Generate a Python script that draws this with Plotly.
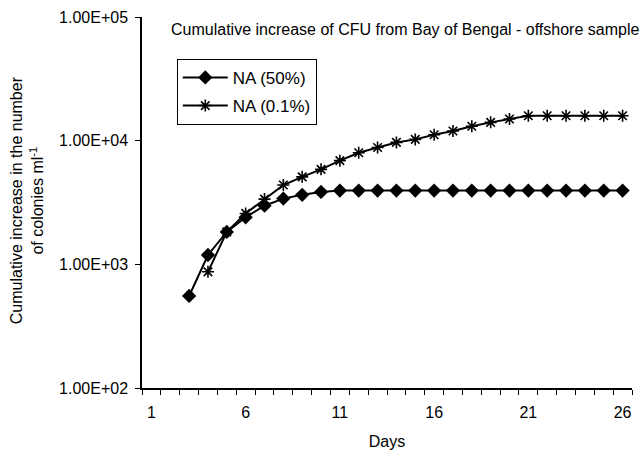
import plotly.graph_objects as go

days_a = list(range(3, 27))
na50 = [555, 1190, 1830, 2400, 2980, 3400, 3650, 3850] + [3950] * 16
days_b = list(range(4, 27))
na01 = [870, 1830, 2580, 3370, 4380, 5100, 5860, 6890, 7980, 8810, 9680,
        10240, 11170, 11970, 13070, 14060, 14970] + [15900] * 6

x_labels = [1, 6, 11, 16, 21, 26]
y_ticks = [100, 1000, 10000, 100000]
y_labels = ["1.00E+02", "1.00E+03", "1.00E+04", "1.00E+05"]

title = "Cumulative increase of CFU from Bay of Bengal - offshore sample"
font = "Arial, Liberation Sans, sans-serif"

fig = go.Figure()
fig.add_trace(go.Scatter(x=days_a, y=na50, mode="lines+markers", name="NA (50%)",
                         legendgroup="a",
                         line=dict(color="black", width=2),
                         marker=dict(symbol="diamond", size=11, color="black")))
fig.add_trace(go.Scatter(x=days_b, y=na01, mode="lines+markers", name="NA (0.1%)",
                         legendgroup="b",
                         line=dict(color="black", width=2),
                         marker=dict(symbol="asterisk-open", size=10, color="black",
                                     line=dict(color="black", width=1.6))))

fig.update_layout(
    width=643, height=450,
    margin=dict(l=142, r=11, t=17, b=62),
    paper_bgcolor="white", plot_bgcolor="white",
    font=dict(family=font, size=16, color="black"),
    showlegend=True,
    legend=dict(x=0.071, y=0.887, xanchor="left", yanchor="top",
                bordercolor="black", borderwidth=1, bgcolor="white",
                traceorder="grouped", tracegroupgap=3, itemwidth=45,
                font=dict(size=17)),
    xaxis=dict(range=[0.5, 26.5], tickvals=x_labels, ticks="",
               showline=True, linecolor="black", linewidth=1.5,
               showgrid=False, zeroline=False, automargin=False,
               tickfont=dict(size=16), ticklabelstandoff=9,
               minor=dict(tickvals=[i + 0.5 for i in range(0, 27)], ticks="outside",
                          ticklen=5, tickcolor="black", showgrid=False),
               title=dict(text="Days", font=dict(size=16), standoff=20)),
    yaxis=dict(type="log", range=[2, 5], tickvals=y_ticks, ticktext=y_labels,
               ticks="outside", ticklen=5, tickcolor="black",
               showline=True, linecolor="black", linewidth=1.5,
               showgrid=False, zeroline=False, tickfont=dict(size=16),
               ticklabelstandoff=4, automargin=False),
    annotations=[
        dict(text=title, x=0.055, y=0.965, xref="paper", yref="paper",
             xanchor="left", yanchor="middle", showarrow=False,
             font=dict(size=16)),
        dict(text="Cumulative increase in the number<br>of colonies ml<sup>-1</sup>",
             x=-0.234, y=0.507, xref="paper", yref="paper", textangle=-90,
             xanchor="center", yanchor="middle", showarrow=False,
             font=dict(size=16)),
    ],
)

fig.write_html("out.html", config={"displayModeBar": False},
               post_script="document.body.style.margin='0';document.body.style.overflow='hidden';")
